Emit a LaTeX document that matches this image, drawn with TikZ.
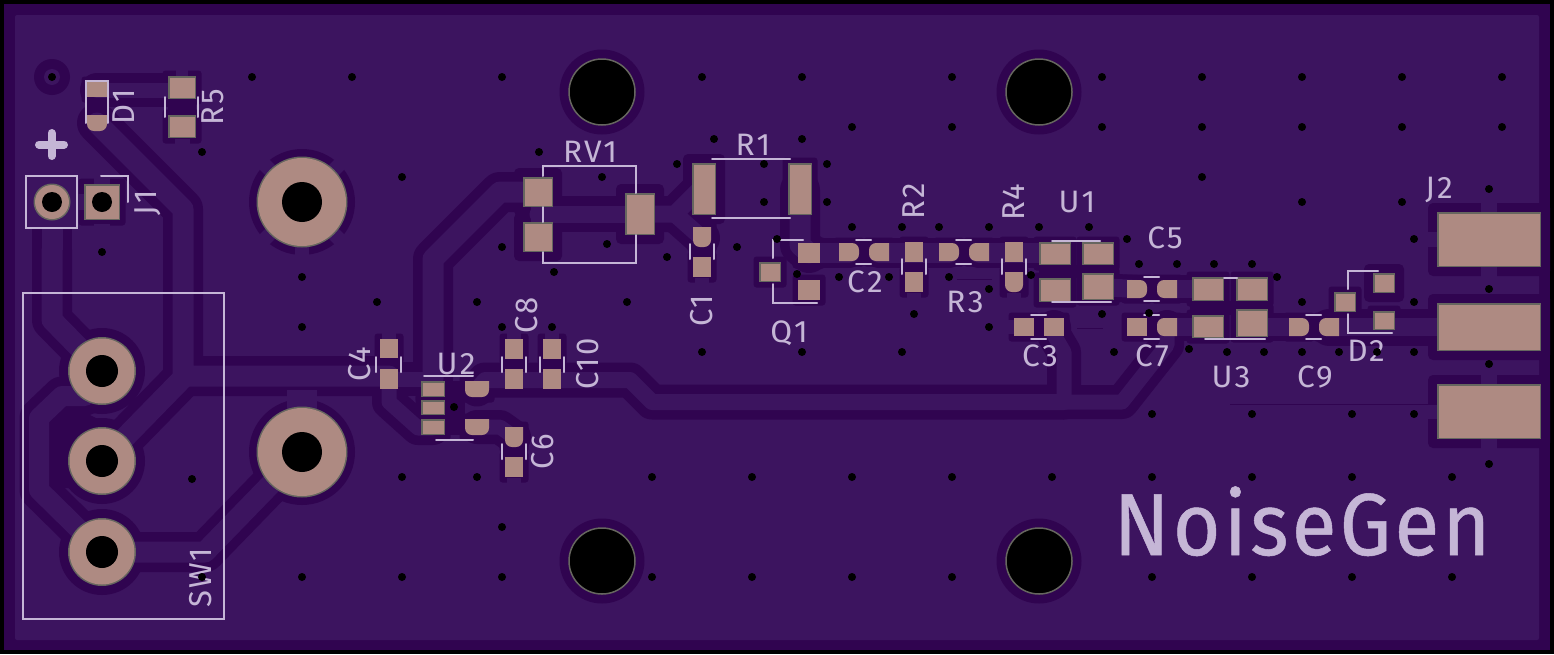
\documentclass[tikz,border=0pt]{standalone}
\usepackage{fontspec}
\setmainfont{Fira Sans}
\newfontfamily\lbfont[LetterSpace=7]{Fira Sans}
\newfontfamily\ngfont[LetterSpace=4,FakeBold=0.6]{Fira Sans}
\definecolor{bgc}{HTML}{3C145F}
\definecolor{dkc}{HTML}{300450}
\definecolor{pkc}{HTML}{AE8A82}
\definecolor{gyc}{HTML}{66665F}
\definecolor{skc}{HTML}{C5B6D6}
% --- tracks, drawn twice: clearance then copper
\newcommand\tr[2]{\draw[line cap=round,line join=round,line width=#1pt+\trgap,color=\trcol] #2;}
\newcommand\trs[2]{\draw[line cap=round,line join=round,line width=#1pt+\trgapS,color=\trcol] #2;}
\newcommand\alltracks{%
 \tr{21}{(97,123)--(183,209)--(183,376)--(389,376)}
 \tr{21}{(102,461)--(185,376)}
 \tr{21}{(52,250)--(52,320)--(102,371)}
 \tr{20}{(102,371)--(85,396)--(62,396)--(39,418)--(39,490)--(102,552)}
 \tr{21}{(102,552)--(205,552)--(302,452)}
 \tr{15}{(97,90)--(181,90)}
 \tr{21}{(538,192)--(500,192)--(433,259)--(433,379)}
 \tr{15}{(389,379)--(433,379)--(433,389)}
 \tr{15}{(389,385)--(389,402)--(418,428)--(433,428)}
 \tr{16}{(477,389)--(485,380)--(630,380)--(652,402)--(1064,402)}
 \tr{15}{(1064,402)--(1064,352)--(1054,335)--(1054,327)}
 \tr{15}{(1064,402)--(1122,402)--(1167,345)--(1167,327)}
 \tr{15}{(477,427)--(500,427)--(514,437)}
 \tr{17}{(538,214)--(640,214)}
 \tr{15}{(538,192)--(538,237)}
 \tr{17}{(640,214)--(675,214)--(704,185)}
 \tr{17}{(675,214)--(702,238)}
 \tr{21}{(800,190)--(800,245)--(809,253)}
 \trs{20}{(809,253)--(849,253)}
 \trs{20}{(879,253)--(949,253)}
 \trs{20}{(979,253)--(1055,253)}
 \trs{18}{(1252,327)--(1299,327)}
 \tr{18}{(1329,327)--(1437,327)}
 \trs{18}{(1167,289)--(1208,289)}
 \trs{18}{(1167,327)--(1208,327)}
 \trs{18}{(1098,287)--(1137,289)}
}
% --- pads, drawn twice: halo then copper
\newcommand\allpads{%
 \pdP{87}{82}{107}{97}\pdD{87}{115}{107}{131}
 \pdM{168}{76}{196}{99}\pdM{168}{115}{196}{138}
 \pdM{84}{184}{120}{220}
 \pdB{523}{177}{553}{207}\pdB{523}{222}{553}{252}\pdB{625}{193}{655}{235}
 \pdB{692}{163}{716}{215}\pdM{788}{163}{812}{215}
 \pdD{693}{227}{711}{247}\pdP{693}{257}{711}{277}
 \pdM{759}{262}{781}{282}\pdP{798}{243}{820}{263}\pdP{798}{280}{820}{300}
 \pdR{839}{243}{859}{261}\pdL{869}{243}{889}{261}
 \pdP{905}{242}{923}{262}\pdP{905}{272}{923}{292}
 \pdR{939}{243}{959}{261}\pdL{969}{243}{989}{261}
 \pdP{1005}{242}{1023}{262}\pdD{1005}{272}{1023}{292}
 \pdM{1039}{242}{1071}{265}\pdM{1082}{242}{1114}{265}
 \pdM{1039}{278}{1071}{302}\pdM{1082}{273}{1114}{300}
 \pdP{1014}{318}{1034}{336}\pdP{1044}{318}{1064}{336}
 \pdR{1127}{280}{1147}{298}\pdL{1157}{280}{1177}{298}
 \pdP{1127}{318}{1147}{336}\pdL{1157}{318}{1177}{336}
 \pdM{1192}{277}{1224}{301}\pdM{1236}{277}{1268}{301}
 \pdM{1192}{315}{1224}{338}\pdM{1236}{309}{1268}{337}
 \pdR{1289}{318}{1309}{336}\pdL{1319}{318}{1339}{336}
 \pdM{1334}{292}{1356}{312}\pdB{1373}{273}{1395}{293}\pdM{1373}{311}{1395}{330}
 \pdB{1437}{212}{1541}{267}\pdB{1437}{303}{1541}{351}\pdB{1437}{384}{1541}{439}
 \pdP{380}{339}{398}{358}\pdP{380}{369}{398}{389}
 \pdP{505}{339}{523}{359}\pdP{505}{369}{523}{389}
 \pdP{543}{339}{561}{359}\pdP{543}{369}{561}{389}
 \pdD{505}{427}{523}{447}\pdP{505}{457}{523}{477}
 \pdM{421}{381}{445}{397}\pdM{421}{400}{445}{415}\pdM{421}{419}{445}{435}
 \pdD{465}{381}{489}{397}\pdD{465}{419}{489}{435}
}
\newcommand\haloPass{%
 \def\pdB##1##2##3##4{\fill[dkc,rounded corners=5] (##1-9,##2-9) rectangle (##3+9,##4+9);}%
 \def\pdP##1##2##3##4{\fill[dkc,rounded corners=3] (##1-5.5,##2-5.5) rectangle (##3+5.5,##4+5.5);}%
 \let\pdM\pdP\let\pdR\pdP\let\pdL\pdP\let\pdD\pdP}
\newcommand\padPass{%
 \def\pdB##1##2##3##4{\fill[gyc] (##1,##2) rectangle (##3,##4);\fill[pkc] (##1+1.5,##2+1.5) rectangle (##3-1.5,##4-1.5);}%
 \let\pdM\pdB
 \def\pdP##1##2##3##4{\fill[pkc] (##1,##2) rectangle (##3,##4);}%
 \def\pdR##1##2##3##4{\fill[pkc] (##1,##2) [rounded corners=7] -- (##3,##2) -- (##3,##4) [sharp corners] -- (##1,##4) -- cycle;}%
 \def\pdL##1##2##3##4{\fill[pkc] (##3,##4) [rounded corners=7] -- (##1,##4) -- (##1,##2) [sharp corners] -- (##3,##2) -- cycle;}%
 \def\pdD##1##2##3##4{\fill[pkc] (##1,##2) -- (##3,##2) [rounded corners=7] -- (##3,##4) -- (##1,##4) [sharp corners] -- cycle;}}
\newcommand\spk[4]{\fill[bgc] (#1,#2) rectangle (#3,#4);}
\tikzset{
 silk/.style={draw=skc,line width=2pt,line cap=round},
 lb/.style={text=skc,inner sep=0pt,font=\lbfont\fontsize{31}{31}\selectfont,xscale=1.02},
 lbr/.style={lb,rotate=90},
 hole/.style={fill=black,draw=gyc,line width=1.5pt},
 via/.style={fill=black}
}
\begin{document}
\begin{tikzpicture}[x=1pt,y=-1pt]
\useasboundingbox (0,0) rectangle (1554,654);
% board
\fill[black] (0,0) rectangle (1554,654);
\fill[dkc] (4,4) rectangle (1550,650);
\fill[bgc,rounded corners=2] (15,15) rectangle (1539,640);
% clearance layer
\haloPass
\allpads
\def\trgap{19pt}\def\trgapS{10pt}\def\trcol{dkc}
\alltracks
\fill[dkc] (32,228) rectangle (72,250);
\fill[dkc] (49,420) -- (70,405) -- (100,420) -- (100,490) -- (49,487) -- cycle;
\fill[dkc] (168,99) rectangle (196,115);
\fill[dkc] (87,97) rectangle (107,115);
\fill[dkc] (1039,265) rectangle (1114,278);
\fill[dkc] (1190,301) rectangle (1268,315);
\fill[dkc] (445,381) rectangle (465,435);
\foreach \x/\y in {602/92,1039/92,602/561,1039/561} \fill[dkc] (\x,\y) circle[radius=42.5];
\foreach \x/\y in {302/202,302/452} \fill[dkc] (\x,\y) circle[radius=53];
\foreach \x/\y in {102/371,102/461,102/552} \fill[dkc] (\x,\y) circle[radius=43];
\fill[dkc] (52,77) circle[radius=18];
% copper layer
\def\trgap{0pt}\def\trgapS{0pt}\def\trcol{bgc}
\alltracks
\spk{42}{228}{63}{250}
\fill[bgc] (52,77) circle[radius=8];
% thermal spokes
\foreach \a in {45,135,225,315} \draw[bgc,line width=14pt] (302,202) -- +(\a:60);
\draw[bgc,line width=14pt] (302,202) -- +(0,58);
\draw[bgc,line width=30pt] (302,452) -- (302,390);
\foreach \x in {1489} {\spk{\x-8}{200}{\x+8}{280}\spk{\x-8}{370}{\x+8}{450}}
\spk{1425}{232}{1440}{247}\spk{1425}{404}{1440}{419}
\spk{94}{224}{110}{232}\spk{76}{194}{84}{210}\spk{94}{176}{110}{184}
\foreach \x/\y in {389/331,514/331,552/331} \spk{\x-7}{\y}{\x+7}{\y+8}
\foreach \x/\y in {702/278,514/478,914/293,1014/293} \spk{\x-7}{\y}{\x+7}{\y+8}
\spk{1005}{320}{1014}{334}\spk{175}{139}{190}{147}\spk{176}{67}{188}{76}
% thin lines
\draw[dkc,line width=1pt] (1230,404) -- (1437,404);
\draw[dkc,line width=1pt] (957,279) -- (992,279);
\draw[dkc,line width=1pt] (1077,328) -- (1103,328);
% pads
\padPass
\allpads
\foreach \x/\y in {302/202,302/452} {\fill[gyc] (\x,\y) circle[radius=45.5];\fill[pkc] (\x,\y) circle[radius=44];\fill[black] (\x,\y) circle[radius=20];}
\foreach \x/\y in {102/371,102/461,102/552} {\fill[gyc] (\x,\y) circle[radius=34];\fill[pkc] (\x,\y) circle[radius=32.5];\fill[black] (\x,\y) circle[radius=16];}
\fill[gyc] (52,202) circle[radius=18.5];\fill[pkc] (52,202) circle[radius=17];\fill[black] (52,202) circle[radius=10];
\fill[black] (102,202) circle[radius=10];
\foreach \x/\y in {602/92,1039/92,602/561,1039/561} \draw[hole] (\x,\y) circle[radius=33];
% silkscreen
\draw[silk] (86,123) -- (86,81) -- (108,81) -- (108,123);
\draw[silk] (165,97) -- (165,117) (198,97) -- (198,117);
\draw[silk,line width=8pt,line cap=round] (39,144.5) -- (64,144.5) (51.5,133) -- (51.5,156);
\draw[silk] (26,176) rectangle (77,228);
\draw[silk] (101,176) -- (128,176) -- (128,202);
\draw[silk,line width=2.5pt] (23,293) rectangle (224,619);
\draw[silk] (543,176) -- (543,166) -- (636,166) -- (636,193) (636,235) -- (636,263) -- (543,263) -- (543,252) (543,207) -- (543,222);
\draw[silk] (712,159) -- (790,159) (712,218) -- (790,218);
\draw[silk] (690,244) -- (690,259) (714,244) -- (714,259);
\draw[silk] (803,240) -- (773,240) -- (773,258) (773,284) -- (773,303) -- (817,303);
\draw[silk] (856,240) -- (871,240) (856,264) -- (871,264);
\draw[silk] (902,259) -- (902,274) (926,259) -- (926,274);
\draw[silk] (956,240) -- (971,240) (956,264) -- (971,264);
\draw[silk] (1002,259) -- (1002,274) (1026,259) -- (1026,274);
\draw[silk] (1052,241) -- (1100,241) (1052,302) -- (1111,302);
\draw[silk] (1031,315) -- (1046,315) (1031,339) -- (1046,339);
\draw[silk] (1144,277) -- (1159,277) (1144,301) -- (1159,301);
\draw[silk] (1144,315) -- (1159,315) (1144,339) -- (1159,339);
\draw[silk] (1224,278) -- (1237,278) (1205,339) -- (1265,339);
\draw[silk] (1306,315) -- (1321,315) (1306,339) -- (1321,339);
\draw[silk] (1348,289) -- (1348,271) -- (1378,271) (1348,314) -- (1348,333) -- (1392,333);
\draw[silk] (376,357) -- (376,372) (401,357) -- (401,372);
\draw[silk] (502,357) -- (502,372) (526,357) -- (526,372);
\draw[silk] (540,357) -- (540,372) (564,357) -- (564,372);
\draw[silk] (502,444) -- (502,459) (526,444) -- (526,459);
\draw[silk] (424,376) -- (473,376) (436,440) -- (473,440);
% labels
\node[lbr] (d1) at (124,107) {D1};
\node[lbr] (r5) at (213,107) {R5};
\node[lbr] (j1) at (148,203) {J1};
\node[lbr] (sw1) at (201,578) {SW1};
\node[lb] (rv1) at (590,152) {RV1};
\node[lb] (r1) at (753,145) {R1};
\node[lbr] (c1) at (702,311) {C1};
\node[lb] (q1) at (789,333) {Q1};
\node[lb] (c2) at (865,282) {C2};
\node[lbr] (r2) at (914,201) {R2};
\node[lb] (r3) at (965,302) {R3};
\node[lbr] (r4) at (1014,202) {R4};
\node[lb] (u1) at (1077,202) {U1};
\node[lb] (c3) at (1040,356) {C3};
\node[lb] (c5) at (1165,238) {C5};
\node[lb] (c7) at (1152,356) {C7};
\node[lb] (u3) at (1231,377) {U3};
\node[lb] (c9) at (1315,377) {C9};
\node[lb] (d2) at (1366,351) {D2};
\node[lb] (j2) at (1439,190) {J2};
\node[lbr] (c4) at (360,364) {C4};
\node[lbr] (c8) at (527,315) {C8};
\node[lbr] (c10) at (588,364) {C10};
\node[lbr] (c6) at (543,452) {C6};
\node[lb] (u2) at (456,364) {U2};
\node[text=skc,inner sep=0pt,font=\ngfont\fontsize{88}{88}\selectfont,xscale=.93,anchor=base] (ng) at (1302,555) {NoiseGen};
% vias
\foreach \x/\y in {252/77,352/77,502/77,702/77,802/77,952/77,1102/77,1202/77,1302/77,1402/77,1502/77,
 852/127,952/127,1102/127,1202/127,1302/127,1402/127,1502/127,
 202/152,714/139,802/139,539/152,677/164,764/164,827/164,1202/177,402/177,602/177,
 1489/189,764/202,827/202,1302/202,1402/202,
 852/227,902/227,939/227,989/227,1039/227,1089/227,777/239,1127/239,1414/239,
 502/247,607/244,737/247,667/257,102/252,1139/264,1177/264,1214/264,1252/264,
 554/272,302/277,797/274,839/277,889/277,949/277,1031/275,1277/277,1489/289,
 989/289,377/302,477/302,627/302,1302/302,1414/302,502/327,552/327,302/327,
 914/314,1102/314,1149/313,989/327,702/352,802/352,902/352,1114/352,1189/349,1227/352,1264/352,1302/352,1339/352,1377/352,1414/352,
 1489/364,454/407,1152/414,1252/414,1352/414,1414/414,1489/464,
 192/479,402/477,477/477,652/477,752/477,852/477,952/477,1052/477,1152/477,1252/477,1352/477,1452/477,
 502/527,202/577,302/577,402/577,502/577,652/577,752/577,852/577,952/577,1152/577,1252/577,1352/577,1452/577}
 \fill[via] (\x,\y) circle[radius=4];
\fill[via] (52,77) circle[radius=4];
\end{tikzpicture}
\end{document}
